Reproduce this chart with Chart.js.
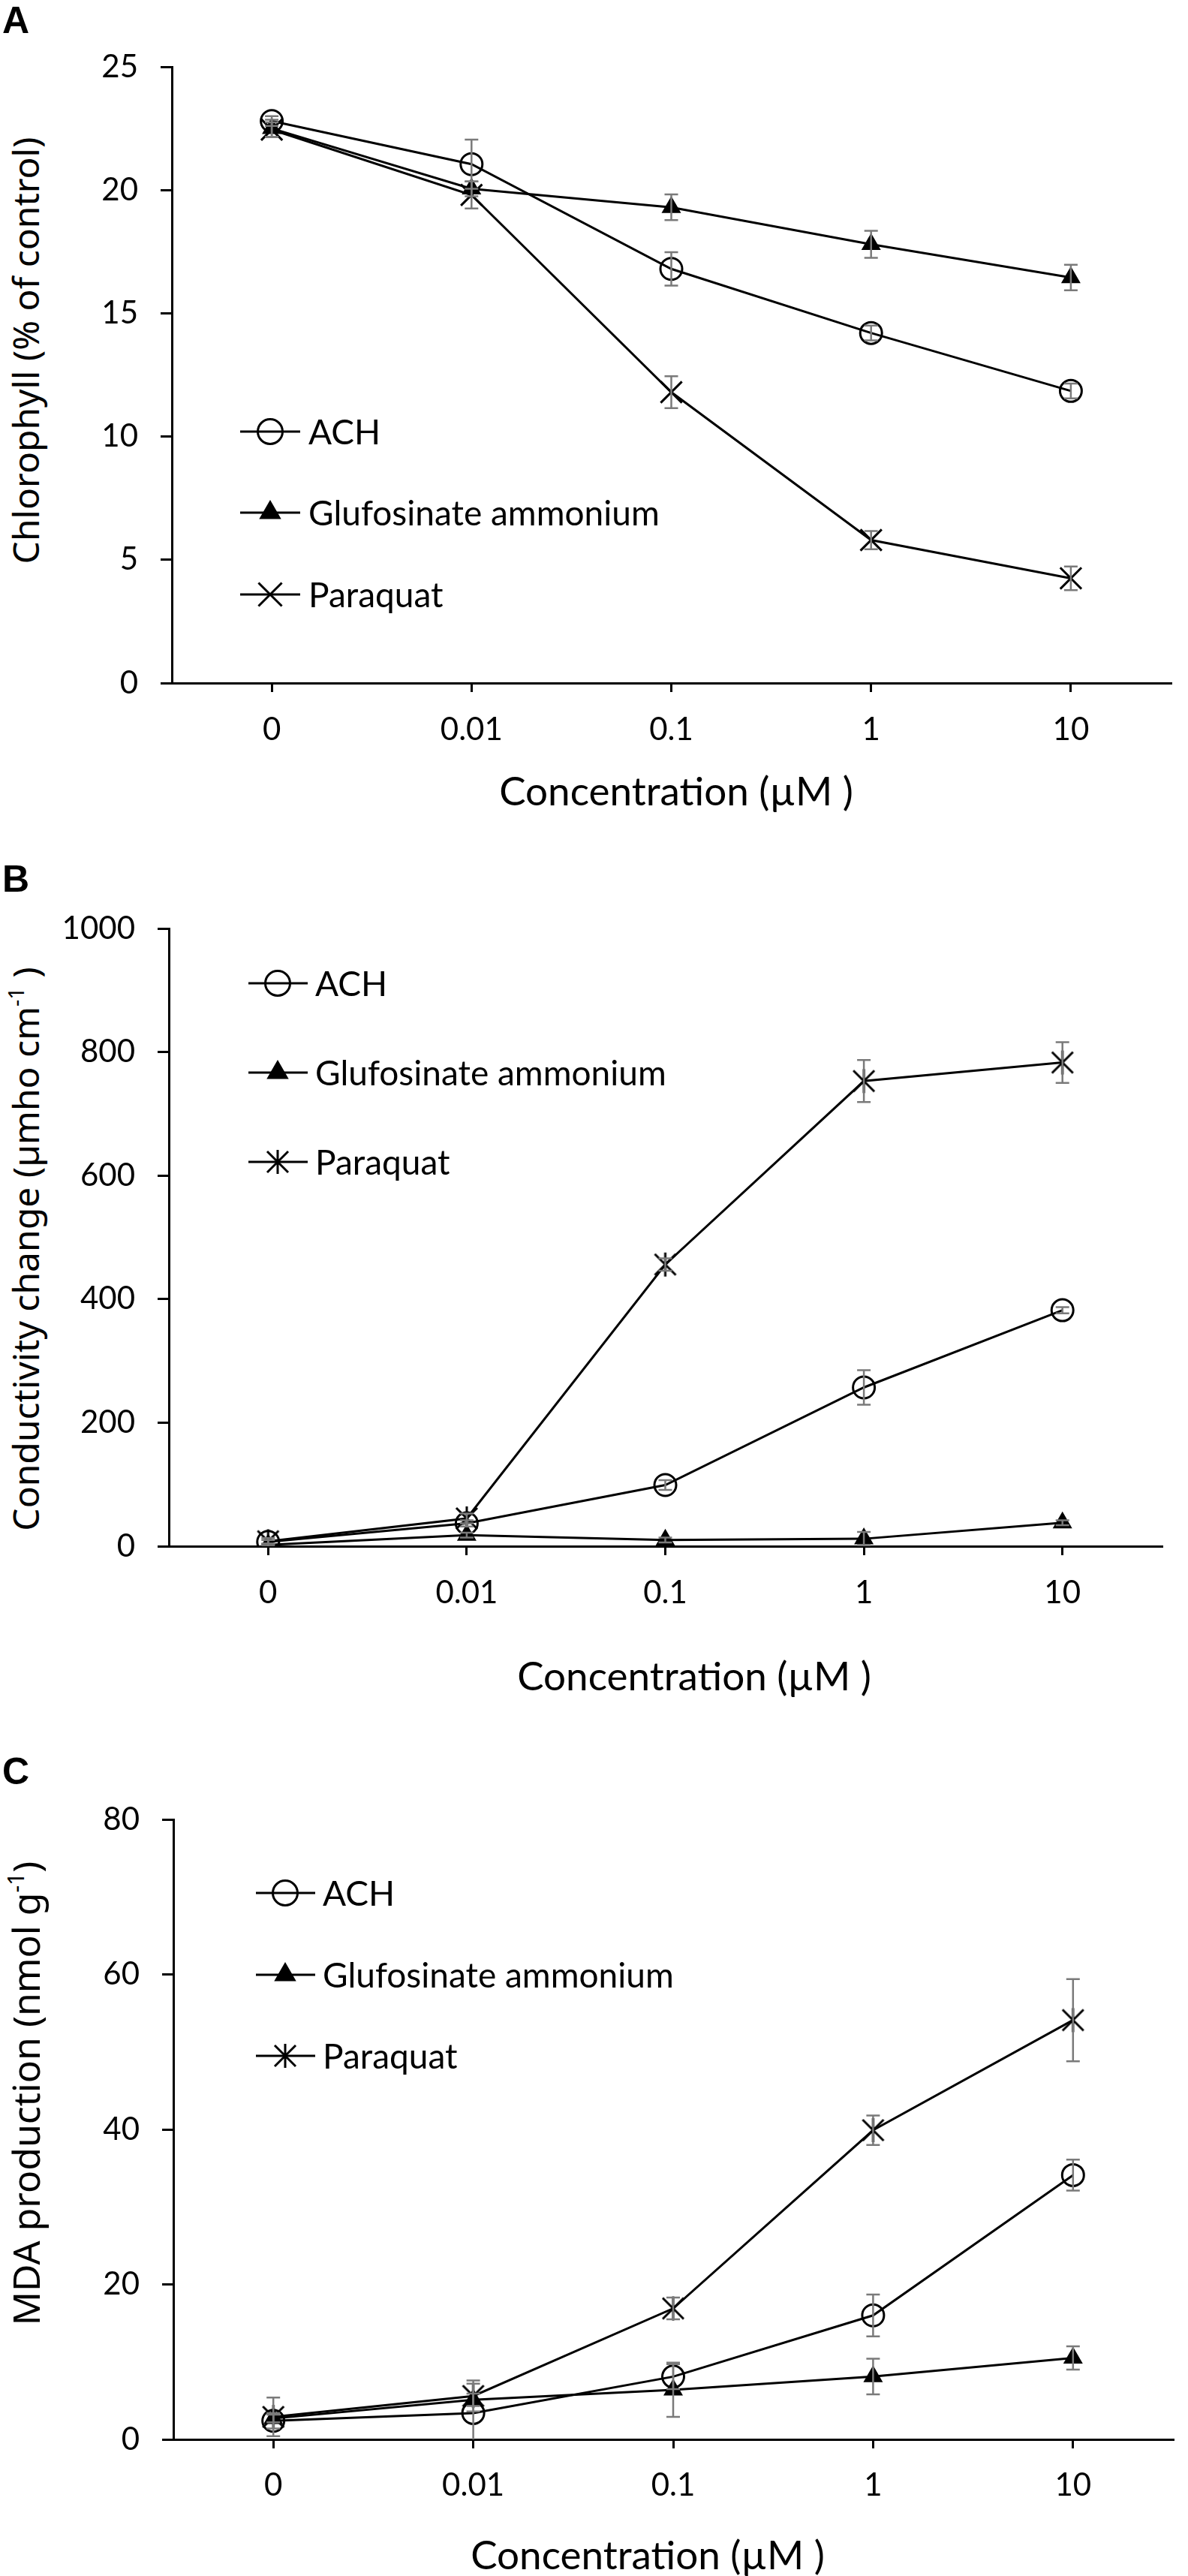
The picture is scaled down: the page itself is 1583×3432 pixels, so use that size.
<!DOCTYPE html>
<html lang="en">
<head>
<meta charset="UTF-8">
<title>Herbicide effects</title>
<script src="https://cdn.jsdelivr.net/npm/chart.js@4.4.0/dist/chart.umd.min.js"></script>
<style>
body { margin:0; background:#fff; width:1583px; height:3432px; position:relative; overflow:hidden; }
canvas { position:absolute; left:0; }
.letter { position:absolute; font-family:"Liberation Sans", Arial, sans-serif; font-weight:bold; font-size:50px; line-height:1; color:#000; }
.ytitle { position:absolute; font-family:"Noto Sans", sans-serif; font-size:48px; line-height:1; white-space:nowrap; color:#000;
          transform:translate(-50%,-50%) rotate(-90deg); }
.xtitle { position:absolute; font-family:Lato, sans-serif; font-size:53px; line-height:1; white-space:nowrap; color:#000;
          transform:translate(-50%,-50%); }
sup { font-size:0.6em; vertical-align:0.7em; line-height:0; }
</style>
</head>
<body>

<div class="letter" style="left:3px;top:2px">A</div>
<div class="letter" style="left:3px;top:1146px">B</div>
<div class="letter" style="left:3px;top:2335px">C</div>

<div class="ytitle" style="left:34px;top:467px">Chlorophyll (% of control)</div>
<div class="ytitle" style="left:34px;top:1664px">Conductivity change (µmho cm<sup>-1</sup> )</div>
<div class="ytitle" style="left:34px;top:2789px;font-size:50px">MDA production (nmol g<sup>-1</sup>)</div>

<div class="xtitle" style="left:901px;top:1052px">Concentration (µM )</div>
<div class="xtitle" style="left:925px;top:2231px">Concentration (µM )</div>
<div class="xtitle" style="left:863px;top:3402px">Concentration (µM )</div>

<canvas id="chartA" width="1583" height="1150" style="top:0px"></canvas>
<canvas id="chartB" width="1583" height="1150" style="top:1150px"></canvas>
<canvas id="chartC" width="1583" height="1132" style="top:2300px"></canvas>

<script>
// x categories (µM)
var concentrations = ['0', '0.01', '0.1', '1', '10'];
var seriesNames = ['ACH', 'Glufosinate ammonium', 'Paraquat'];

// A - chlorophyll (% of control)
var chlAch = [22.8, 21.05, 16.8, 14.2, 11.85];
var chlAchErr = [0.2, 1.0, 0.68, 0.3, 0.3];
var chlGlu = [22.5, 20.05, 19.3, 17.8, 16.45];
var chlGluErr = [0.35, 0.3, 0.52, 0.55, 0.52];
var chlPara = [22.45, 19.8, 11.8, 5.8, 4.25];
var chlParaErr = [0.3, 0.55, 0.65, 0.37, 0.48];

// B - conductivity change
var condAch = [7, 37, 99, 257, 382];
var condAchErr = [3, 5, 8, 28, 5];
var condGlu = [2, 18, 10, 12, 38];
var condGluErr = [2, 4, 4, 11, 4];
var condPara = [8, 45, 456, 753, 783];
var condParaErr = [5, 8, 10, 34, 33];

// C - MDA production
var mdaAch = [2.4, 3.4, 8.1, 16.0, 34.1];
var mdaAchErr = [1.0, 3.8, 1.6, 2.7, 2.0];
var mdaGlu = [2.7, 5.1, 6.4, 8.1, 10.5];
var mdaGluErr = [0.5, 0.8, 3.5, 2.3, 1.5];
var mdaPara = [2.9, 5.6, 16.9, 39.9, 54.1];
var mdaParaErr = [2.5, 2.0, 1.4, 1.9, 5.3];

// asterisk marker (vertical bar + X), as used for paraquat in B and C
function asteriskMarker() {
	var c = document.createElement('canvas');
	c.width = 36; c.height = 36;
	var g = c.getContext('2d');
	g.strokeStyle = '#000';
	g.lineWidth = 3;
	g.beginPath();
	g.moveTo(18, 2); g.lineTo(18, 34);
	g.moveTo(4, 4); g.lineTo(32, 32);
	g.moveTo(32, 4); g.lineTo(4, 32);
	g.stroke();
	return c;
}
var asterisk = asteriskMarker();

// gray error bars, drawn with the y scale of the chart
var errorBarPlugin = {
	id: 'errorBars',
	afterDatasetsDraw: function(chart) {
		var ctx = chart.ctx;
		var yScale = chart.scales.y;
		ctx.save();
		ctx.beginPath();
		ctx.rect(chart.chartArea.left, chart.chartArea.top, chart.chartArea.right - chart.chartArea.left, chart.chartArea.bottom - chart.chartArea.top);
		ctx.clip();
		ctx.strokeStyle = '#7a7a7a';
		ctx.lineWidth = 2.5;
		chart.data.datasets.forEach(function(ds, i) {
			if (!ds.errors) return;
			var meta = chart.getDatasetMeta(i);
			meta.data.forEach(function(pt, j) {
				var v = ds.data[j], e = ds.errors[j];
				var yTop = yScale.getPixelForValue(v + e);
				var yBot = yScale.getPixelForValue(v - e);
				ctx.beginPath();
				ctx.moveTo(pt.x, yTop); ctx.lineTo(pt.x, yBot);
				ctx.moveTo(pt.x - 9, yTop); ctx.lineTo(pt.x + 9, yTop);
				ctx.moveTo(pt.x - 9, yBot); ctx.lineTo(pt.x + 9, yBot);
				ctx.stroke();
			});
		});
		ctx.restore();
	}
};

// legend placed inside the plot like the original figure
var insideLegendPlugin = {
	id: 'insideLegend',
	afterDraw: function(chart, args, opts) {
		var ctx = chart.ctx;
		ctx.save();
		chart.data.datasets.forEach(function(ds, i) {
			var y = opts.rows[i];
			ctx.strokeStyle = '#000';
			ctx.lineWidth = 3;
			ctx.beginPath();
			ctx.moveTo(opts.lineX0, y); ctx.lineTo(opts.lineX1, y);
			ctx.stroke();
			ctx.fillStyle = ds.pointBackgroundColor;
			ctx.lineWidth = ds.pointBorderWidth;
			Chart.helpers.drawPoint(ctx, {pointStyle: ds.pointStyle, radius: ds.pointRadius + 2, rotation: 0, borderWidth: ds.pointBorderWidth}, opts.markerX, y);
			ctx.fillStyle = '#000';
			ctx.font = '46px Lato';
			ctx.textBaseline = 'middle';
			ctx.fillText(ds.label, opts.textX, y + 2);
		});
		ctx.restore();
	}
};

function makeDatasets(ach, achErr, glu, gluErr, para, paraErr, paraStyle, paraRadius) {
	return [{
		label: seriesNames[0], data: ach, errors: achErr,
		borderColor: '#000', borderWidth: 3,
		pointStyle: 'circle', pointRadius: 14.5, pointBorderWidth: 3,
		pointBackgroundColor: 'rgba(255,255,255,0)', pointBorderColor: '#000'
	}, {
		label: seriesNames[1], data: glu, errors: gluErr,
		borderColor: '#000', borderWidth: 3,
		pointStyle: 'triangle', pointRadius: 13, pointBorderWidth: 2,
		pointBackgroundColor: '#000', pointBorderColor: '#000'
	}, {
		label: seriesNames[2], data: para, errors: paraErr,
		borderColor: '#000', borderWidth: 3,
		pointStyle: paraStyle, pointRadius: paraRadius, pointBorderWidth: 3,
		pointBackgroundColor: '#000', pointBorderColor: '#000'
	}];
}

function makeChart(id, datasets, yMax, yStep, box, legend) {
	var canvasHeight = document.getElementById(id).height;
	return new Chart(document.getElementById(id), {
		type: 'line',
		data: { labels: concentrations, datasets: datasets },
		plugins: [errorBarPlugin, insideLegendPlugin],
		options: {
			responsive: false,
			animation: false,
			devicePixelRatio: 1,
			layout: { padding: { left: 0, right: box.right, top: box.top, bottom: 0 } },
			plugins: {
				legend: { display: false },
				tooltip: { enabled: false },
				insideLegend: legend
			},
			scales: {
				x: {
					type: 'category',
					offset: true,
					grid: { drawOnChartArea: false, drawTicks: true, tickLength: 12, offset: false, color: '#000', lineWidth: 3 },
					border: { display: true, color: '#000', width: 3 },
					ticks: { color: '#000', font: { family: 'Lato', size: 42 }, padding: box.xPad, maxRotation: 0 },
					afterFit: function(scale) { scale.height = canvasHeight - box.bottom; }
				},
				y: {
					min: 0, max: yMax,
					grid: { drawOnChartArea: false, drawTicks: true, tickLength: 15, color: '#000', lineWidth: 3 },
					border: { display: true, color: '#000', width: 3 },
					ticks: { stepSize: yStep, color: '#000', font: { family: 'Lato', size: 42 }, padding: 30,
						callback: function(v) { return String(v); } },
					afterFit: function(scale) { scale.width = box.left; }
				}
			}
		}
	});
}

makeChart('chartA',
	makeDatasets(chlAch, chlAchErr, chlGlu, chlGluErr, chlPara, chlParaErr, 'crossRot', 20),
	25, 5,
	{ left: 229, right: 6, top: 89, bottom: 910, xPad: 25 },
	{ rows: [575, 683, 792], lineX0: 320, lineX1: 400, markerX: 360, textX: 411 });

makeChart('chartB',
	makeDatasets(condAch, condAchErr, condGlu, condGluErr, condPara, condParaErr, asterisk, 17),
	1000, 200,
	{ left: 225, right: 35, top: 87, bottom: 910, xPad: 25 },
	{ rows: [160, 279, 398], lineX0: 331, lineX1: 410, markerX: 370, textX: 420 });

makeChart('chartC',
	makeDatasets(mdaAch, mdaAchErr, mdaGlu, mdaGluErr, mdaPara, mdaParaErr, asterisk, 17),
	80, 20,
	{ left: 231, right: 12, top: 124, bottom: 950, xPad: 24 },
	{ rows: [222, 331, 439], lineX0: 341, lineX1: 420, markerX: 380, textX: 430 });
</script>

</body>
</html>
